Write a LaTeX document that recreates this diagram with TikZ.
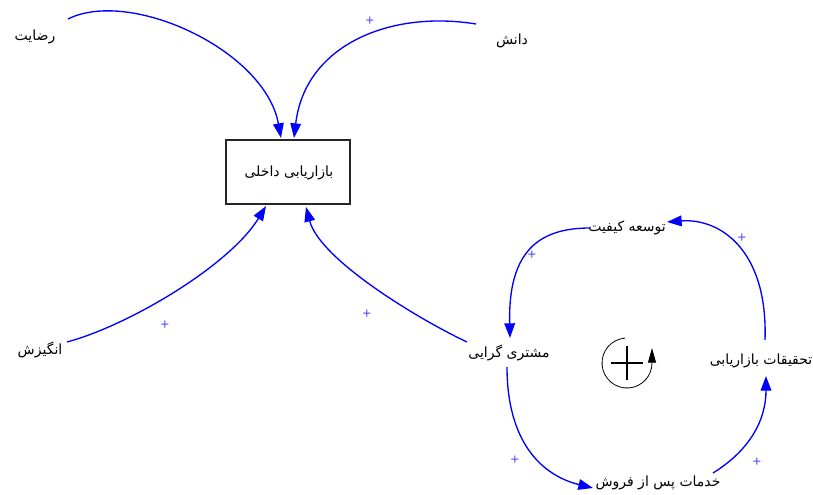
\documentclass[tikz,border=0pt]{standalone}
\usepackage{fontspec}
\setmainfont{Liberation Sans}
\newfontfamily\arabicfont[Script=Arabic]{DejaVu Sans}
\TeXXeTstate=1
\usetikzlibrary{arrows.meta}
\begin{document}
\begin{tikzpicture}[x=0.75pt,y=-0.75pt,
  lbl/.style={font=\arabicfont\fontsize{10.5}{12}\selectfont, inner sep=1pt},
  link/.style={draw=blue, line width=1pt, -{Triangle[length=11pt,width=8pt]}},
  pol/.style={text=blue!70, font=\fontsize{11}{12}\selectfont, inner sep=0pt},
  boxst/.style={draw=black!85, line width=0.8pt, minimum width=124*0.75pt, minimum height=64*0.75pt, inner sep=0pt}]
\useasboundingbox[fill=white] (0,0) rectangle (813,495);

% nodes
\node[boxst] (box) at (288,172) {};
\node[lbl] (boxt) at (289,173) {\beginR بازاریابی داخلی\endR};
\node[lbl] (rez) at (35,37) {\beginR رضایت\endR};
\node[lbl] (dan) at (512,41) {\beginR دانش\endR};
\node[lbl] (ang) at (40,350) {\beginR انگیزش\endR};
\node[lbl] (mosh) at (509,353) {\beginR مشتری گرایی\endR};
\node[lbl] (tose) at (627,228) {\beginR توسعه کیفیت\endR};
\node[lbl] (tah) at (761,361) {\beginR تحقیقات بازاریابی\endR};
\node[lbl] (kh) at (658,483) {\beginR خدمات پس از فروش\endR};

% links
\draw[link] ([shift={(33,-18)}]rez.center) .. controls (130,-12) and (265,50) .. ([shift={(-7,-34)}]box.center);
\draw[link] ([shift={(-36,-17)}]dan.center) .. controls (390,10) and (305,45) .. ([shift={(6,-34)}]box.center);
\draw[link] ([shift={(27,-8)}]ang.center) .. controls (130,325) and (230,265) .. ([shift={(-22,34)}]box.center);
\draw[link] ([shift={(-42,-11)}]mosh.center) .. controls (420,320) and (320,260) .. ([shift={(18,35)}]box.center);
\draw[link] ([shift={(-37,0)}]tose.center) .. controls (538,228) and (508,252) .. ([shift={(1,-15)}]mosh.center);
\draw[link] ([shift={(4,-21)}]tah.center) .. controls (768,250) and (720,218) .. ([shift={(40,-6)}]tose.center);
\draw[link] ([shift={(-2,14)}]mosh.center) .. controls (507,440) and (540,475) .. ([shift={(-65,5)}]kh.center);
\draw[link] ([shift={(55,-10)}]kh.center) .. controls (750,450) and (766,420) .. ([shift={(5,15)}]tah.center);

% polarities
\node[pol] (p1) at (370,21) {+};
\node[pol] (p2) at (165,325) {+};
\node[pol] (p3) at (367,314) {+};
\node[pol] (p4) at (532,255) {+};
\node[pol] (p5) at (742,238) {+};
\node[pol] (p6) at (515,460) {+};
\node[pol] (p7) at (757,462) {+};

% loop symbol
\coordinate (loop) at (627,363);
\draw[line width=0.6pt, -{Triangle[length=11pt,width=6pt]}] ([shift={(95:18.75pt)}]loop) arc[start angle=95, end angle=360, radius=18.75pt] -- ++(0,-15);
\draw[line width=1.5pt] ([shift={(-16,0)}]loop) -- ([shift={(16,0)}]loop);
\draw[line width=1.5pt] ([shift={(0,-17)}]loop) -- ([shift={(0,17)}]loop);
\end{tikzpicture}
\end{document}
